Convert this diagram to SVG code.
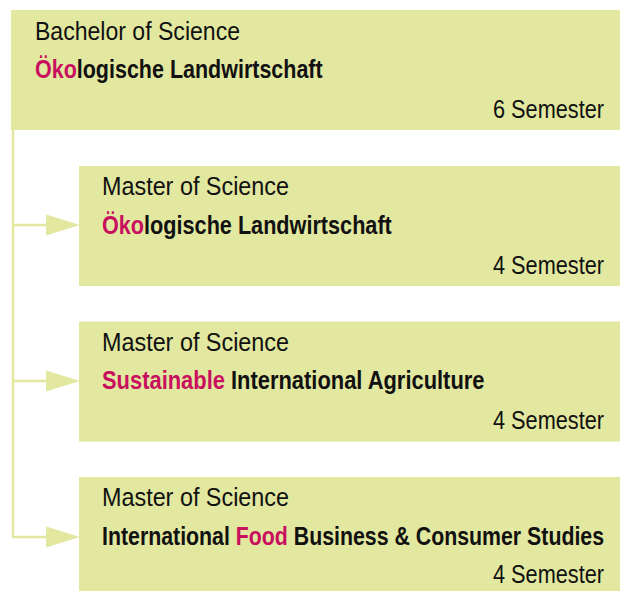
<svg xmlns="http://www.w3.org/2000/svg" width="620" height="591" viewBox="0 0 620 591">
  <style>
    .box { fill: #e2e8a0; }
    .t { font-family: "Liberation Sans Narrow", "Liberation Sans", Arial, sans-serif; font-size: 25px; fill: #111; }
    .b { font-weight: bold; }
    .p { fill: #c8105f; }
    .conn { fill: none; stroke: #e2e8a0; stroke-width: 2.5; }
    .head { fill: #e2e8a0; }
  </style>
  <rect width="620" height="591" fill="#ffffff"/>
  <g id="connectors">
    <path class="conn" d="M13,130 V537 H50 M13,225 H50 M13,381 H50"/>
    <polygon class="head" points="46,214.5 80,225 46,235.5"/>
    <polygon class="head" points="46,370.5 80,381 46,391.5"/>
    <polygon class="head" points="46,526.5 80,537 46,547.5"/>
  </g>
  <g id="bachelor">
    <rect class="box" x="11" y="10" width="609" height="120"/>
    <text class="t" x="35" y="40" textLength="205" lengthAdjust="spacingAndGlyphs">Bachelor of Science</text>
    <text class="t b" transform="translate(35,77.5) scale(0.86,1)" x="0" y="0"><tspan class="p">Öko</tspan>logische Landwirtschaft</text>
    <text class="t" x="493" y="117.5" textLength="111" lengthAdjust="spacingAndGlyphs">6 Semester</text>
  </g>
  <g id="master1">
    <rect class="box" x="79" y="166" width="541" height="120"/>
    <text class="t" x="102" y="195" textLength="187" lengthAdjust="spacingAndGlyphs">Master of Science</text>
    <text class="t b" transform="translate(102,233.5) scale(0.866,1)" x="0" y="0"><tspan class="p">Öko</tspan>logische Landwirtschaft</text>
    <text class="t" x="493" y="273.5" textLength="111" lengthAdjust="spacingAndGlyphs">4 Semester</text>
  </g>
  <g id="master2">
    <rect class="box" x="79" y="321.5" width="541" height="120"/>
    <text class="t" x="102" y="350.5" textLength="187" lengthAdjust="spacingAndGlyphs">Master of Science</text>
    <text class="t b" transform="translate(102,389) scale(0.876,1)" x="0" y="0"><tspan class="p">Sustainable</tspan> International Agriculture</text>
    <text class="t" x="493" y="429" textLength="111" lengthAdjust="spacingAndGlyphs">4 Semester</text>
  </g>
  <g id="master3">
    <rect class="box" x="79" y="477" width="541" height="120"/>
    <text class="t" x="102" y="506" textLength="187" lengthAdjust="spacingAndGlyphs">Master of Science</text>
    <text class="t b" transform="translate(102,545) scale(0.853,1)" x="0" y="0">International <tspan class="p">Food</tspan> Business &amp; Consumer Studies</text>
    <text class="t" x="493" y="583" textLength="111" lengthAdjust="spacingAndGlyphs">4 Semester</text>
  </g>
</svg>
